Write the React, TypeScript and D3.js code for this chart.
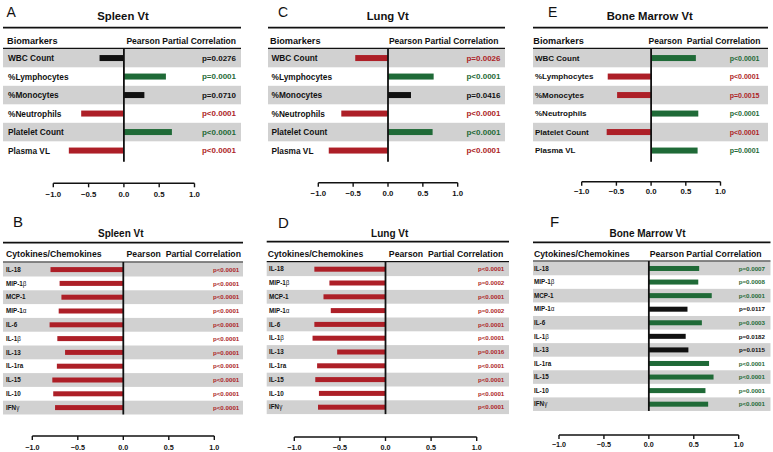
import React from "react";
import * as d3 from "d3";

// ---------- DATA ----------
const biomarkers = ["WBC Count", "%Lymphocytes", "%Monocytes", "%Neutrophils", "Platelet Count", "Plasma VL"];
const cytokines = ["IL-18", "MIP-1β", "MCP-1", "MIP-1α", "IL-6", "IL-1β", "IL-13", "IL-1ra", "IL-15", "IL-10", "IFNγ"];
const axisTicks = [-1.0, -0.5, 0.0, 0.5, 1.0];

const spleenBioValues = [-0.345, 0.595, 0.29, -0.605, 0.68, -0.78];
const spleenBioP = ["p=0.0276", "p=0.0001", "p=0.0710", "p<0.0001", "p<0.0001", "p<0.0001"];
const spleenBioSig = ["k", "g", "k", "r", "g", "r"];

const lungBioValues = [-0.47, 0.655, 0.33, -0.67, 0.64, -0.85];
const lungBioP = ["p=0.0026", "p<0.0001", "p=0.0416", "p<0.0001", "p<0.0001", "p<0.0001"];
const lungBioSig = ["r", "g", "k", "r", "g", "r"];

const boneBioValues = [0.645, -0.625, -0.49, 0.68, -0.64, 0.67];
const boneBioP = ["p<0.0001", "p<0.0001", "p=0.0015", "p<0.0001", "p<0.0001", "p=0.0001"];
const boneBioSig = ["g", "r", "r", "g", "r", "g"];

const spleenCytValues = [-0.8, -0.7, -0.68, -0.71, -0.81, -0.725, -0.64, -0.73, -0.78, -0.77, -0.75];
const spleenCytP = ["p<0.0001", "p<0.0001", "p<0.0001", "p<0.0001", "p<0.0001", "p<0.0001", "p=0.0001", "p<0.0001", "p<0.0001", "p<0.0001", "p<0.0001"];
const spleenCytSig = ["r", "r", "r", "r", "r", "r", "r", "r", "r", "r", "r"];

const lungCytValues = [-0.78, -0.615, -0.68, -0.6, -0.78, -0.8, -0.53, -0.75, -0.77, -0.73, -0.74];
const lungCytP = ["p<0.0001", "p=0.0002", "p<0.0001", "p=0.0002", "p<0.0001", "p<0.0001", "p=0.0016", "p<0.0001", "p<0.0001", "p<0.0001", "p<0.0001"];
const lungCytSig = ["r", "r", "r", "r", "r", "r", "r", "r", "r", "r", "r"];

const boneCytValues = [0.56, 0.55, 0.7, 0.43, 0.59, 0.41, 0.44, 0.67, 0.72, 0.63, 0.66];
const boneCytP = ["p=0.0007", "p=0.0008", "p<0.0001", "p=0.0117", "p=0.0003", "p=0.0182", "p=0.0115", "p<0.0001", "p<0.0001", "p=0.0001", "p<0.0001"];
const boneCytSig = ["g", "g", "g", "k", "g", "k", "k", "g", "g", "g", "g"];

// ---------- STYLE ----------
const FONT = "'Liberation Sans', Arial, Helvetica, sans-serif";
const COLORS: Record<string, string> = { r: "#ad1f27", g: "#1f6a37", k: "#111111" };
const GRAY = "#d1d1d1";
const INK = "#111111";

type Layout = {
  letter: string; lx: number; ly: number; lfs: number;
  title: string; tx: number; ty: number; tfs: number;
  x0: number; x1: number; topY: number;
  head: string; headRight: string; headY: number; headLeftX: number; headRightX: number; hfs: number; hrfs: number;
  hLineY: number; rowTop: number; rowH: number; barH: number;
  labelX: number; rfs: number; pRight: number; pfs: number;
  range: [number, number]; axisY: number; tickLabelY: number; tickFs: number; zeroExtra: number;
};

function Label({ text, x, y, fs }: { text: string; x: number; y: number; fs: number }) {
  const parts: { s: string; greek: boolean }[] = [];
  for (const ch of text) {
    const greek = /[α-ω]/.test(ch);
    const last = parts[parts.length - 1];
    if (last && last.greek === greek) last.s += ch;
    else parts.push({ s: ch, greek });
  }
  return (
    <text x={x} y={y} fontSize={fs} fontWeight="bold" fill={INK} fontFamily={FONT}>
      {parts.map((p, i) => (
        <tspan key={i} fontWeight={p.greek ? "normal" : "bold"}>{p.s}</tspan>
      ))}
    </text>
  );
}

function Panel({ L, labels, values, pvals, sig }: { L: Layout; labels: string[]; values: number[]; pvals: string[]; sig: string[] }) {
  const x = d3.scaleLinear().domain([-1, 1]).range(L.range);
  const n = labels.length;
  const rowsBottom = L.rowTop + n * L.rowH;
  const fmt = d3.format(".1f");
  return (
    <g fontFamily={FONT}>
      <text x={L.lx} y={L.ly} fontSize={L.lfs} fill={INK}>{L.letter}</text>
      <text x={L.tx} y={L.ty} fontSize={L.tfs} fontWeight="bold" textAnchor="middle" fill={INK}>{L.title}</text>
      <line x1={L.x0} x2={L.x1} y1={L.topY} y2={L.topY} stroke={INK} strokeWidth={1.8} />
      <text x={L.headLeftX} y={L.headY} fontSize={L.hfs} fontWeight="bold" fill={INK}>{L.head}</text>
      <text x={L.headRightX} y={L.headY} fontSize={L.hrfs} fontWeight="bold" fill={INK} textAnchor="end" style={{ whiteSpace: "pre" }}>{L.headRight}</text>
      {labels.map((_, i) =>
        i % 2 === 0 ? (
          <rect key={"bg" + i} x={L.x0} y={L.rowTop + i * L.rowH} width={L.x1 - L.x0} height={L.rowH} fill={GRAY} />
        ) : null
      )}
      <line x1={L.x0} x2={L.x1} y1={L.hLineY} y2={L.hLineY} stroke={INK} strokeWidth={1.2} />
      {values.map((v, i) => {
        const cy = L.rowTop + (i + 0.5) * L.rowH;
        const xa = x(Math.min(0, v));
        const xb = x(Math.max(0, v));
        return <rect key={"b" + i} x={xa} y={cy - L.barH / 2} width={xb - xa} height={L.barH} fill={COLORS[sig[i]]} />;
      })}
      <line x1={x(0)} x2={x(0)} y1={L.hLineY} y2={rowsBottom + L.zeroExtra} stroke={INK} strokeWidth={1.8} />
      {labels.map((lab, i) => (
        <Label key={"l" + i} text={lab} x={L.labelX} y={L.rowTop + (i + 0.5) * L.rowH + L.rfs * 0.36} fs={L.rfs} />
      ))}
      {pvals.map((p, i) => (
        <text key={"p" + i} x={L.pRight} y={L.rowTop + (i + 0.5) * L.rowH + L.pfs * 0.36} fontSize={L.pfs} fontWeight="bold" textAnchor="end" fill={COLORS[sig[i]]}>{p}</text>
      ))}
      <line x1={x(-1)} x2={x(1)} y1={L.axisY} y2={L.axisY} stroke={INK} strokeWidth={1.4} />
      {axisTicks.map((t, i) => (
        <g key={"t" + i}>
          <line x1={x(t)} x2={x(t)} y1={L.axisY} y2={L.axisY + 4} stroke={INK} strokeWidth={1.4} />
          <text x={x(t)} y={L.tickLabelY} fontSize={L.tickFs} fontWeight="bold" textAnchor="middle" fill={INK}>{fmt(t)}</text>
        </g>
      ))}
    </g>
  );
}

const topCommon = {
  lfs: 14, ly: 17, ty: 20, tfs: 11.3, topY: 27.7, headY: 44, hfs: 9.2, hrfs: 8.5, hLineY: 48.3,
  rowTop: 48.8, rowH: 18.5, barH: 6, rfs: 8.3, pfs: 8, tickFs: 7.8, zeroExtra: 2,
};
const botCommon = {
  lfs: 15, ly: 227, ty: 236.7, tfs: 10, headY: 256.5, hfs: 8.7, hrfs: 8.7, rowH: 13.8, barH: 5,
  rfs: 6.3, pfs: 6.2, tickFs: 7.2, zeroExtra: 0, head: "Cytokines/Chemokines",
};

const layoutA: Layout = {
  ...topCommon, letter: "A", lx: 6.5, title: "Spleen Vt", tx: 123, x0: 3, x1: 241,
  head: "Biomarkers", headRight: "Pearson Partial Correlation", headLeftX: 7, headRightX: 236,
  labelX: 8, pRight: 236, range: [53.3, 194.5], axisY: 183.3, tickLabelY: 196.7,
};
const layoutC: Layout = {
  ...topCommon, letter: "C", lx: 278, title: "Lung Vt", tx: 387.7, x0: 268, x1: 505,
  head: "Biomarkers", headRight: "Pearson Partial Correlation", headLeftX: 270, headRightX: 498.5,
  labelX: 271.5, pRight: 500.5, range: [318.3, 457.7], axisY: 182.7, tickLabelY: 196,
};
const layoutE: Layout = {
  ...topCommon, letter: "E", lx: 548, title: "Bone Marrow Vt", tx: 649.7, x0: 533, x1: 768,
  head: "Biomarkers", headRight: "Pearson  Partial Correlation", headLeftX: 533.3, headRightX: 760.5,
  labelX: 535, rfs: 8, pRight: 759.5, pfs: 7, range: [581.7, 720.5], axisY: 181.7, tickLabelY: 194,
};
const layoutB: Layout = {
  ...botCommon, letter: "B", lx: 13, title: "Spleen Vt", tx: 120.8, x0: 3, x1: 243, topY: 242.7,
  headRight: "Pearson  Partial Correlation", headLeftX: 6, headRightX: 241,
  hLineY: 262, rowTop: 262.7, labelX: 6, pRight: 239.3, range: [32.3, 214.3], axisY: 436, tickLabelY: 450,
};
const layoutD: Layout = {
  ...botCommon, letter: "D", lx: 278, ly: 227.7, title: "Lung Vt", tx: 389.7, x0: 266.7, x1: 509, topY: 241.7,
  headRight: "Pearson  Partial Correlation", headLeftX: 267.7, headRightX: 503.3,
  hLineY: 261.7, rowTop: 262.3, labelX: 269, pRight: 504.3, range: [294.3, 476.7], axisY: 437, tickLabelY: 450,
};
const layoutF: Layout = {
  ...botCommon, letter: "F", lx: 550, ly: 226.7, title: "Bone Marrow Vt", tx: 647.5, x0: 533, x1: 770.5, topY: 242.3,
  headRight: "Pearson Partial Correlation", headLeftX: 534, headRightX: 761.7,
  hLineY: 261, rowTop: 261.7, rowH: 13.57, labelX: 534, pRight: 765, range: [559, 738.7], axisY: 435, tickLabelY: 446.5,
};

export default function App() {
  return (
    <svg width={773} height={452} style={{ position: "absolute", left: 0, top: 0, background: "#fff" }}>
      <rect x={0} y={0} width={773} height={452} fill="#fff" />
      <Panel L={layoutA} labels={biomarkers} values={spleenBioValues} pvals={spleenBioP} sig={spleenBioSig} />
      <Panel L={layoutC} labels={biomarkers} values={lungBioValues} pvals={lungBioP} sig={lungBioSig} />
      <Panel L={layoutE} labels={biomarkers} values={boneBioValues} pvals={boneBioP} sig={boneBioSig} />
      <Panel L={layoutB} labels={cytokines} values={spleenCytValues} pvals={spleenCytP} sig={spleenCytSig} />
      <Panel L={layoutD} labels={cytokines} values={lungCytValues} pvals={lungCytP} sig={lungCytSig} />
      <Panel L={layoutF} labels={cytokines} values={boneCytValues} pvals={boneCytP} sig={boneCytSig} />
    </svg>
  );
}
